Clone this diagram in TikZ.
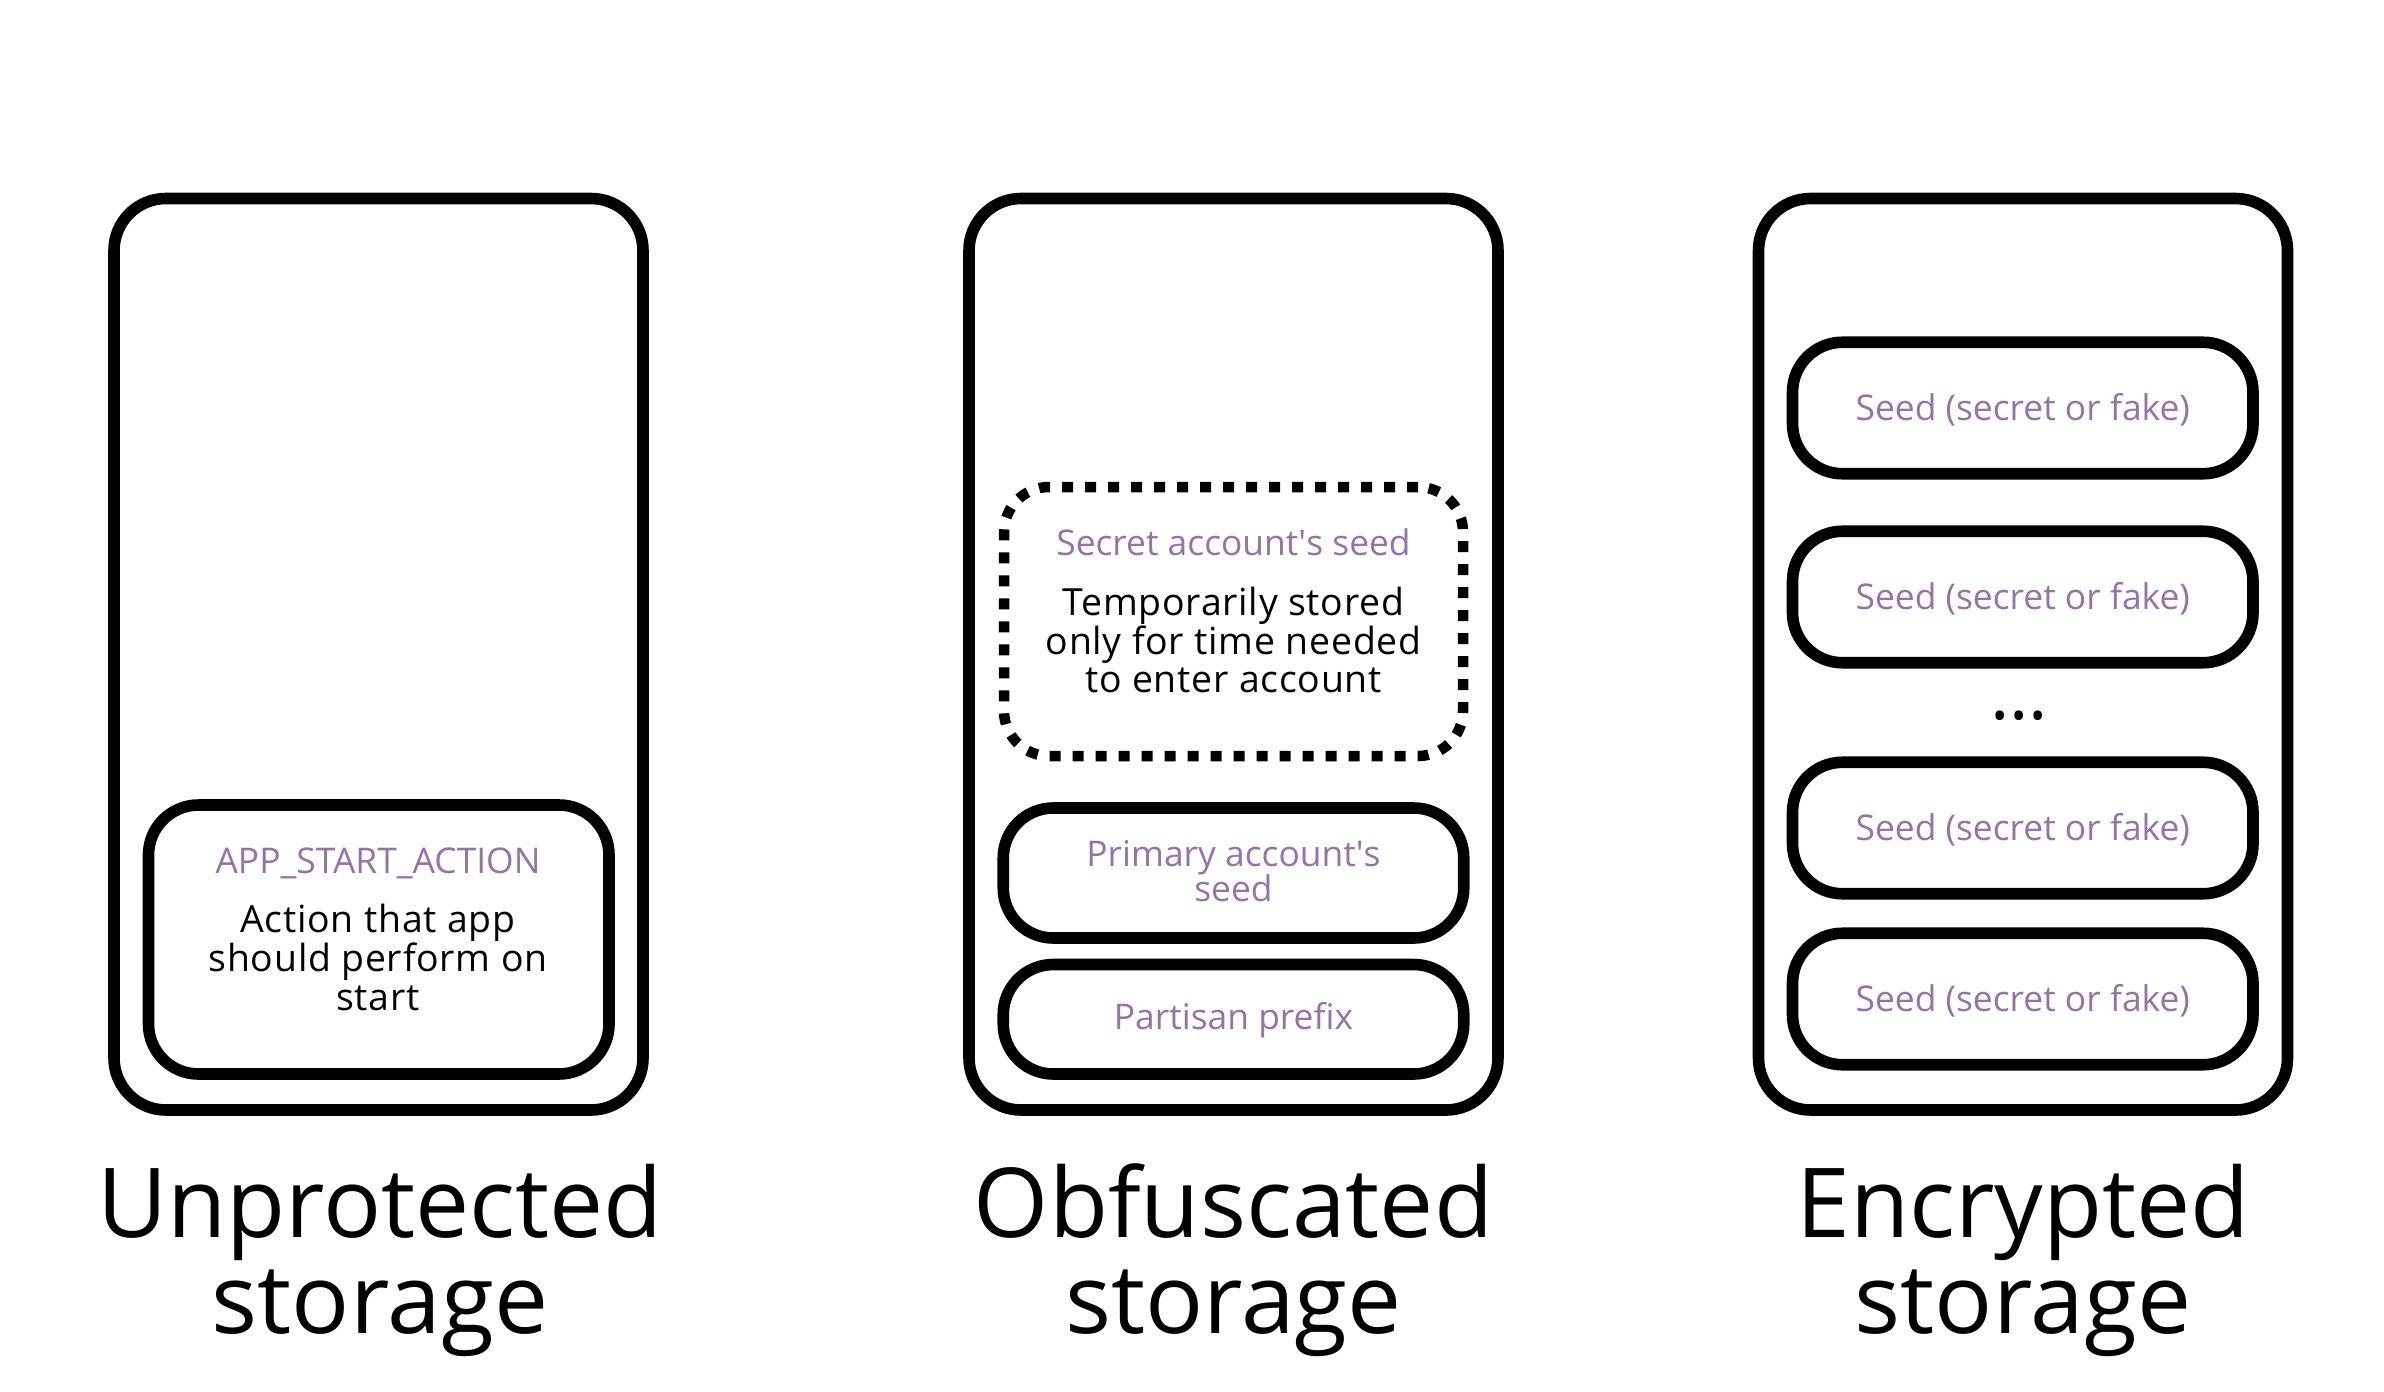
\documentclass[tikz,border=0pt]{standalone}
\usepackage{fontspec}
\setmainfont{Open Sans}
\newfontfamily\bodyfont{Open Sans}[LetterSpace=2.0]
\definecolor{txtpurple}{HTML}{9673A6}
\lineskiplimit=-100pt
\tikzset{
  container/.style={draw=black, line width=5.8pt, rounded corners=26pt,
    minimum width=264.5pt, minimum height=455.75pt, inner sep=0pt, outer sep=0pt},
  slot/.style={draw=black, line width=5.8pt, rounded corners=25pt,
    minimum width=230.25pt, inner sep=0pt, outer sep=0pt},
  dotbox/.style={draw=black, line width=5.25pt, dash pattern=on 5.5pt off 6pt,
    rounded corners=22.5pt, minimum width=229.5pt, minimum height=134.5pt,
    inner sep=0pt, outer sep=0pt},
  tag/.style={font={\fontsize{17.7pt}{19.5pt}\selectfont}, text=txtpurple,
    anchor=base, align=center, inner sep=0pt},
  body/.style={font={\bodyfont\fontsize{18.7pt}{19.5pt}\selectfont},
    text=black, anchor=base, align=center, inner sep=0pt},
  heading/.style={font={\fontsize{48.25pt}{48pt}\selectfont},
    text=black, anchor=base, align=center, inner sep=0pt},
  ellipsis/.style={font={\fontsize{36.3pt}{36pt}\selectfont}, text=black,
    anchor=base, inner sep=0pt}
}
\begin{document}
\lineskiplimit=-100pt
\begin{tikzpicture}[x=0.5pt, y=-0.5pt]
\useasboundingbox (0,0) rectangle (2384,1392);

% containers
\node[container] (unprot) at (378.5,654.25) {};
\node[container] (obfus) at (1233.5,654.25) {};
\node[container] (encr) at (2023,654.25) {};

% unprotected storage (multi-line nodes are anchored at their last baseline)
\node[slot, minimum height=134.5pt] (appbox) at (378.75,939.5) {};
\node[tag] (apptag) at (378,873) {APP\_START\_ACTION};
\node[body] (apptext) at (378,1010.7) {Action that app\\should perform on\\start};

% obfuscated storage
\node[dotbox] (secretbox) at (1233.5,621.5) {};
\node[tag] (secrettag) at (1233.5,555) {Secret account\textquotesingle s seed};
\node[body, font={\bodyfont\fontsize{18.7pt}{19.25pt}\selectfont}] (secrettext) at (1233.5,692.7)
  {Temporarily stored\\only for time needed\\to enter account};
\node[slot, minimum height=65pt] (primbox) at (1233.5,873) {};
\node[tag, font={\fontsize{17.7pt}{17.5pt}\selectfont}] (primtag) at (1233.5,901) {Primary account\textquotesingle s\\seed};
\node[slot, minimum height=54.75pt] (partbox) at (1233.5,1019.25) {};
\node[tag] (parttag) at (1233.5,1029) {Partisan prefix};

% encrypted storage
\node[slot, minimum height=65.75pt] (seedA) at (2022.75,408) {};
\node[tag] (seedAt) at (2022.75,420.7) {Seed (secret or fake)};
\node[slot, minimum height=65.75pt] (seedB) at (2022.75,597) {};
\node[tag] (seedBt) at (2022.75,609.7) {Seed (secret or fake)};
\node[ellipsis] (dots) at (2019.3,719) {...};
\node[slot, minimum height=65.75pt] (seedC) at (2022.75,828) {};
\node[tag] (seedCt) at (2022.75,840.7) {Seed (secret or fake)};
\node[slot, minimum height=65.75pt] (seedD) at (2022.75,999) {};
\node[tag] (seedDt) at (2022.75,1011.7) {Seed (secret or fake)};

% titles
\node[heading] (t1) at (380,1333) {Unprotected\\storage};
\node[heading] (t2) at (1233.5,1333) {Obfuscated\\storage};
\node[heading] (t3) at (2023,1333) {Encrypted\\storage};
\end{tikzpicture}
\end{document}
